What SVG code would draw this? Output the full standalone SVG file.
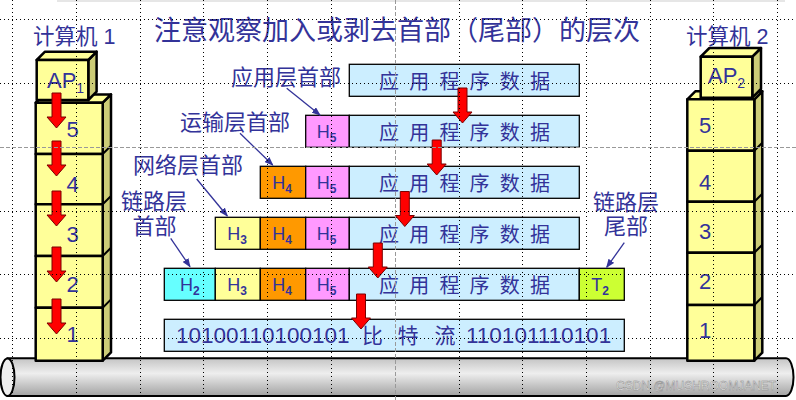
<svg xmlns="http://www.w3.org/2000/svg" width="796" height="400" viewBox="0 0 796 400">
<style>
.t{font-family:"Liberation Sans","Noto Sans CJK SC",sans-serif;fill:#333399}
.cjk{font-family:"Noto Sans CJK SC","Liberation Sans",sans-serif;fill:#333399}
.num{font-family:"Liberation Sans",sans-serif;fill:#333399;font-size:22px;text-anchor:middle}
.h{font-family:"Liberation Sans",sans-serif;fill:#333399;font-size:18px}
.ap{font-family:"Liberation Sans",sans-serif;fill:#333399;font-size:22px}
.sub{font-size:12px;font-weight:bold}
.front{fill:#ffff99;stroke:#000;stroke-width:2.5;stroke-linejoin:round}
.side{fill:#cccc77;stroke:#000;stroke-width:2.5;stroke-linejoin:round}
.sep{stroke:#000;stroke-width:2}
.box{stroke:#000;stroke-width:1.3}
.data{fill:#cceeff}
.h2{fill:#66ffff}.h3{fill:#ffff99}.h4{fill:#ff9900}.h5{fill:#ff99ff}.t2{fill:#ccff33}
.dt{font-family:"Noto Sans CJK SC",sans-serif;fill:#333399;font-size:20px}
.lead{stroke:#333399;stroke-width:1.3;fill:none;marker-end:url(#ah)}
.grid{stroke:#000;stroke-width:1;stroke-dasharray:1 3}
.gridc{stroke:#999;stroke-width:1;stroke-dasharray:4 2}
</style>
<defs>
<path id="ra" d="M-4.5 0H4.5V24H9.5L0 35L-9.5 24H-4.5Z" fill="#ff0000" stroke="#7a0000" stroke-width="1"/>
<marker id="ah" markerUnits="userSpaceOnUse" markerWidth="9" markerHeight="7" refX="8" refY="3.5" orient="auto">
<path d="M0 0L9 3.5L0 7Z" fill="#333399"/>
</marker>
<linearGradient id="cyl" x1="0" y1="0" x2="0" y2="1">
<stop offset="0" stop-color="#c4c4c4"/>
<stop offset="0.4" stop-color="#eeeeee"/>
<stop offset="1" stop-color="#a2a2a2"/>
</linearGradient>
</defs>
<rect x="57" y="0" width="728" height="2" fill="#e6e6e6"/>

<g id="cable">
<path d="M7.5 358.3H786A7.5 18.8 0 0 1 786 396H7.5Z" fill="url(#cyl)" stroke="#000" stroke-width="2"/>
<ellipse cx="7.5" cy="377.2" rx="7" ry="18.8" fill="#eeeeee" stroke="#000" stroke-width="2"/>
<text x="616" y="390" font-family="Liberation Sans,sans-serif" font-size="12" fill="#ffffff" stroke="#8a8a8a" stroke-width="0.5">CSDN @MUSHROOMJANET</text>
</g>

<text class="cjk" x="154" y="39.5" font-size="27">注意观察加入或剥去首部（尾部）的层次</text>

<g id="host1">
<text class="t" x="33" y="43.5" font-size="21.5">计算机 1</text>
<polygon class="side" points="102.7,102.7 111,94.4 111,352.4 102.7,360.7"/>
<polygon class="front" points="35.7,102.7 44,94.4 111,94.4 102.7,102.7"/>
<g id="h1-l5"><rect class="front" x="35.7" y="102.7" width="67" height="51.3"/><text class="num" x="72.5" y="137">5</text></g>
<g id="h1-l4"><rect class="front" x="35.7" y="154" width="67" height="50.3"/><text class="num" x="72.5" y="192">4</text></g>
<g id="h1-l3"><rect class="front" x="35.7" y="204.3" width="67" height="51.7"/><text class="num" x="72.5" y="242">3</text></g>
<g id="h1-l2"><rect class="front" x="35.7" y="256" width="67" height="51.7"/><text class="num" x="72.5" y="292">2</text></g>
<g id="h1-l1"><rect class="front" x="35.7" y="307.7" width="67" height="53"/><text class="num" x="72.5" y="342">1</text></g>
<path class="sep" d="M102.7 154L111 145.7M102.7 204.3L111 196M102.7 256L111 247.7M102.7 307.7L111 299.4" fill="none"/>
<g id="h1-ap">
<polygon class="side" points="88.3,60 96.6,51.7 96.6,91.7 88.3,100"/>
<polygon class="front" points="36.7,60 45,51.7 96.6,51.7 88.3,60"/>
<rect class="front" x="36.7" y="60" width="51.6" height="40"/>
<text class="ap" x="47" y="88">AP<tspan font-size="14" dy="5">1</tspan></text>
</g>
</g>

<g id="host2">
<text class="t" x="686" y="43.5" font-size="21.5">计算机 2</text>
<polygon class="side" points="754.3,99.3 762.3,91.3 762.3,352.7 754.3,360.7"/>
<polygon class="front" points="687.3,99.3 695.3,91.3 762.3,91.3 754.3,99.3"/>
<g id="h2-l5"><rect class="front" x="687.3" y="99.3" width="67" height="51.4"/><text class="num" x="705" y="133">5</text></g>
<g id="h2-l4"><rect class="front" x="687.3" y="150.7" width="67" height="51"/><text class="num" x="705" y="190">4</text></g>
<g id="h2-l3"><rect class="front" x="687.3" y="201.7" width="67" height="51"/><text class="num" x="705" y="239">3</text></g>
<g id="h2-l2"><rect class="front" x="687.3" y="252.7" width="67" height="52.3"/><text class="num" x="705" y="289">2</text></g>
<g id="h2-l1"><rect class="front" x="687.3" y="305" width="67" height="55.7"/><text class="num" x="705" y="338">1</text></g>
<path class="sep" d="M754.3 150.7L762.3 142.7M754.3 201.7L762.3 193.7M754.3 252.7L762.3 244.7M754.3 305L762.3 297" fill="none"/>
<g id="h2-ap">
<polygon class="side" points="752.3,56.7 761,48 761,89 752.3,97.7"/>
<polygon class="front" points="700.7,56.7 709.4,48 761,48 752.3,56.7"/>
<rect class="front" x="700.7" y="56.7" width="51.6" height="41"/>
<text class="ap" x="708" y="83">AP<tspan font-size="14" dy="5">2</tspan></text>
</g>
</g>

<g id="row1">
<rect class="box data" x="349.3" y="64.3" width="230" height="32"/>
<text class="dt" x="379" y="89.3" textLength="171" lengthAdjust="spacing">应 用 程 序 数 据</text>
</g>
<g id="row2">
<rect class="box h5" x="305.7" y="115.3" width="43.6" height="32"/>
<text class="h" x="316.7" y="138.3">H<tspan class="sub" dy="4">5</tspan></text>
<rect class="box data" x="349.3" y="115.3" width="230" height="32"/>
<text class="dt" x="379" y="140.3" textLength="171" lengthAdjust="spacing">应 用 程 序 数 据</text>
</g>
<g id="row3">
<rect class="box h4" x="260.3" y="166.3" width="45.4" height="32"/>
<text class="h" x="272.3" y="189.3">H<tspan class="sub" dy="4">4</tspan></text>
<rect class="box h5" x="305.7" y="166.3" width="43.6" height="32"/>
<text class="h" x="316.7" y="189.3">H<tspan class="sub" dy="4">5</tspan></text>
<rect class="box data" x="349.3" y="166.3" width="230" height="32"/>
<text class="dt" x="379" y="191.3" textLength="171" lengthAdjust="spacing">应 用 程 序 数 据</text>
</g>
<g id="row4">
<rect class="box h3" x="215.3" y="217.3" width="45" height="32"/>
<text class="h" x="227.3" y="240.3">H<tspan class="sub" dy="4">3</tspan></text>
<rect class="box h4" x="260.3" y="217.3" width="45.4" height="32"/>
<text class="h" x="272.3" y="240.3">H<tspan class="sub" dy="4">4</tspan></text>
<rect class="box h5" x="305.7" y="217.3" width="43.6" height="32"/>
<text class="h" x="316.7" y="240.3">H<tspan class="sub" dy="4">5</tspan></text>
<rect class="box data" x="349.3" y="217.3" width="230" height="32"/>
<text class="dt" x="379" y="242.3" textLength="171" lengthAdjust="spacing">应 用 程 序 数 据</text>
</g>
<g id="row5">
<rect class="box h2" x="164.3" y="268.3" width="51" height="32"/>
<text class="h" x="180" y="291.3">H<tspan class="sub" dy="4">2</tspan></text>
<rect class="box h3" x="215.3" y="268.3" width="45" height="32"/>
<text class="h" x="227.3" y="291.3">H<tspan class="sub" dy="4">3</tspan></text>
<rect class="box h4" x="260.3" y="268.3" width="45.4" height="32"/>
<text class="h" x="272.3" y="291.3">H<tspan class="sub" dy="4">4</tspan></text>
<rect class="box h5" x="305.7" y="268.3" width="43.6" height="32"/>
<text class="h" x="316.7" y="291.3">H<tspan class="sub" dy="4">5</tspan></text>
<rect class="box data" x="349.3" y="268.3" width="230" height="32"/>
<text class="dt" x="379" y="293.3" textLength="171" lengthAdjust="spacing">应 用 程 序 数 据</text>
<rect class="box t2" x="579.3" y="268.3" width="45" height="32"/>
<text class="h" x="591.3" y="291.3">T<tspan class="sub" dy="4">2</tspan></text>
</g>
<g id="row6">
<rect class="box data" x="164.3" y="319.3" width="460" height="32"/>
<text class="t" y="342.5" font-size="22.5"><tspan x="176">10100110100101 </tspan><tspan class="cjk" font-size="21" x="362">比 </tspan><tspan class="cjk" font-size="21" x="397.5">特 </tspan><tspan class="cjk" font-size="21" x="434.5">流 </tspan><tspan x="466">110101110101</tspan></text>
</g>

<g id="labels">
<text class="cjk" x="231" y="84.5" font-size="22">应用层首部</text>
<text class="cjk" x="180" y="130" font-size="22">运输层首部</text>
<text class="cjk" x="133" y="173" font-size="22">网络层首部</text>
<text class="cjk" font-size="22" text-anchor="middle"><tspan x="154" y="208.5">链路层</tspan><tspan x="154.5" y="233.5">首部</tspan></text>
<text class="cjk" font-size="22" text-anchor="middle"><tspan x="626" y="209.5">链路层</tspan><tspan x="626" y="234">尾部</tspan></text>
</g>

<g id="connectors">
<path class="lead" d="M286.7 88.3L320 115"/>
<path class="lead" d="M240 133.3L272.7 165"/>
<path class="lead" d="M196.7 179L227.3 216"/>
<path class="lead" d="M170.7 238.3L190 266.7"/>
<path class="lead" d="M624.3 242.7L606.7 267.3"/>
<use href="#ra" x="56.5" y="93"/>
<use href="#ra" x="56.5" y="141"/>
<use href="#ra" x="56.5" y="191"/>
<use href="#ra" x="56.5" y="247"/>
<use href="#ra" x="56.5" y="299"/>
<use href="#ra" x="462.5" y="88"/>
<use href="#ra" x="436.7" y="140"/>
<use href="#ra" x="404.8" y="191.5"/>
<use href="#ra" x="377.8" y="243"/>
<use href="#ra" x="361" y="294"/>
</g>

<g id="guides">
<path class="grid" d="M12.5 0V400M76.5 0V400M140.5 0V400M203.5 0V400M267.5 0V400M331.5 0V400M459.5 0V400M522.5 0V400M586.5 0V400M650.5 0V400M713.5 0V400M777.5 0V400M0 19.5H796M0 83.5H796M0 211.5H796M0 274.5H796M0 338.5H796"/>
<path class="gridc" d="M395.5 0V400M0 147.5H796"/>
</g>
</svg>
